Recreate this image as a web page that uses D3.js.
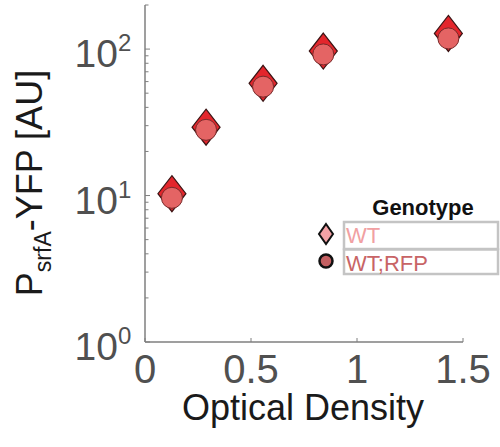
<!DOCTYPE html>
<html>
<head>
<meta charset="utf-8">
<script src="https://cdn.jsdelivr.net/npm/d3@7"></script>
<style>
  html, body { margin: 0; padding: 0; background: #fff; }
  svg { display: block; font-family: "Liberation Sans", Arial, sans-serif; }
</style>
</head>
<body>
<div id="chart"></div>
<script>
// data
const od = [0.127, 0.288, 0.557, 0.841, 1.431];
const wtValues = [10.3, 29.3, 58.4, 96.9, 127.9];
const wtRfpValues = [9.65, 28.1, 55.4, 92.0, 118.3];
const xTicks = [0, 0.5, 1, 1.5];
const xTickLabels = ["0", "0.5", "1", "1.5"];
const yTicks = [1, 10, 100];
const genotypes = ["WT", "WT;RFP"];

const W = 500, H = 447;
const svg = d3.select("#chart").append("svg")
  .attr("width", W).attr("height", H);

const x = d3.scaleLinear().domain([0, 1.5]).range([145, 463]);
const y = d3.scaleLog().domain([1, 200]).range([342, 5]);

const axisColor = "#7f7f7f";
const labelColor = "#505050";

// y axis (ticks inward)
const minor = [];
for (let d = 1; d <= 100; d *= 10) {
  for (let k = 2; k <= 9; k++) if (k * d <= 200) minor.push(k * d);
}
const g = svg.append("g");
g.append("line")
  .attr("x1", x(0)).attr("x2", x(0))
  .attr("y1", y(200)).attr("y2", y(1))
  .attr("stroke", axisColor).attr("stroke-width", 1.5);
g.selectAll(".ymin").data(minor).enter().append("line")
  .attr("x1", x(0)).attr("x2", x(0) + 3.5)
  .attr("y1", d => y(d)).attr("y2", d => y(d))
  .attr("stroke", axisColor).attr("stroke-width", 1);
g.selectAll(".ymaj").data(yTicks).enter().append("line")
  .attr("x1", x(0)).attr("x2", x(0) + 5)
  .attr("y1", d => y(d)).attr("y2", d => y(d))
  .attr("stroke", axisColor).attr("stroke-width", 1);

g.selectAll(".ylab").data(yTicks).enter().append("text")
  .attr("x", 118).attr("y", d => y(d) + 18)
  .attr("text-anchor", "end")
  .attr("font-size", 39).attr("fill", labelColor)
  .text("10");
g.selectAll(".yexp").data(yTicks).enter().append("text")
  .attr("x", 118).attr("y", d => y(d) + 2)
  .attr("font-size", 24).attr("fill", labelColor)
  .text(d => Math.round(Math.log10(d)));

// x axis
g.append("line")
  .attr("x1", x(0)).attr("x2", x(1.5))
  .attr("y1", y(1)).attr("y2", y(1))
  .attr("stroke", axisColor).attr("stroke-width", 1.5);
g.selectAll(".xt").data(xTicks).enter().append("line")
  .attr("x1", d => x(d)).attr("x2", d => x(d))
  .attr("y1", y(1)).attr("y2", y(1) - 4)
  .attr("stroke", axisColor).attr("stroke-width", 1);
g.selectAll(".xlab").data(xTicks).enter().append("text")
  .attr("x", d => x(d)).attr("y", 383)
  .attr("text-anchor", "middle")
  .attr("font-size", 40).attr("fill", labelColor)
  .text((d, i) => xTickLabels[i]);

// axis titles
svg.append("text")
  .attr("x", (x(0) + x(1.5)) / 2 - 1).attr("y", 420)
  .attr("text-anchor", "middle")
  .attr("font-size", 36).attr("fill", "#1a1a1a")
  .text("Optical Density");

const yt = svg.append("text")
  .attr("transform", "translate(42,183) rotate(-90)")
  .attr("text-anchor", "middle")
  .attr("font-size", 36).attr("fill", "#1a1a1a");
yt.append("tspan").text("P");
yt.append("tspan").attr("font-size", 23).attr("dy", 9).text("srfA");
yt.append("tspan").attr("dy", -9).text("-YFP [AU]");

// markers
const diamond = (cx, cy, hw, hh) =>
  `M${cx},${cy - hh}L${cx + hw},${cy}L${cx},${cy + hh}L${cx - hw},${cy}Z`;

svg.append("g").selectAll("path").data(od).enter().append("path")
  .attr("d", (d, i) => diamond(x(d), y(wtValues[i]), 14, 18))
  .attr("fill", "#e3262c").attr("stroke", "#3a1414").attr("stroke-width", 1.2);

svg.append("g").selectAll("circle").data(od).enter().append("circle")
  .attr("cx", d => x(d)).attr("cy", (d, i) => y(wtRfpValues[i]))
  .attr("r", 10.5)
  .attr("fill", "#e46464").attr("stroke", "#7a2a2a").attr("stroke-width", 1);

// legend
const leg = svg.append("g");
leg.append("text")
  .attr("x", 423).attr("y", 215)
  .attr("text-anchor", "middle")
  .attr("font-size", 22).attr("font-weight", "bold").attr("fill", "#111")
  .text("Genotype");

const rowTop = [222, 249.5];
const rowH = [27, 24.5];
const textColors = ["#f1a0a2", "#c86466"];
leg.selectAll("rect").data(genotypes).enter().append("rect")
  .attr("x", 344).attr("y", (d, i) => rowTop[i])
  .attr("width", 154).attr("height", (d, i) => rowH[i])
  .attr("fill", "#fff").attr("stroke", "#c4c4c4").attr("stroke-width", 2.5);
leg.selectAll(".lt").data(genotypes).enter().append("text")
  .attr("x", 346).attr("y", (d, i) => [243, 271][i])
  .attr("font-size", 22).attr("fill", (d, i) => textColors[i])
  .text(d => d);

leg.append("path")
  .attr("d", diamond(326, 234, 7, 10))
  .attr("fill", "#f4a2a6").attr("stroke", "#111").attr("stroke-width", 2);
leg.append("circle")
  .attr("cx", 326).attr("cy", 261).attr("r", 6.5)
  .attr("fill", "#c46062").attr("stroke", "#111").attr("stroke-width", 2.5);
</script>
</body>
</html>
